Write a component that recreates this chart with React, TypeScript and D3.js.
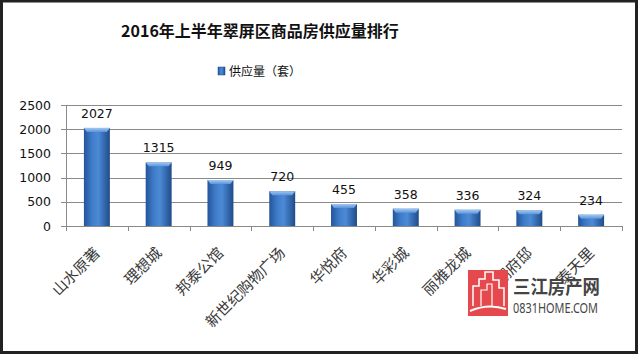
import * as d3 from "d3";

// chart data
const categories = ["山水原著", "理想城", "邦泰公馆", "新世纪购物广场", "华悦府", "华彩城", "丽雅龙城", "湖府邸", "泰天里"];
const supply = [2027, 1315, 949, 720, 455, 358, 336, 324, 234];
const yTicks = [0, 500, 1000, 1500, 2000, 2500];

const title = "2016年上半年翠屏区商品房供应量排行";
const legendLabel = "供应量（套）";

export default function App() {
  const W = 640;
  const H = 355;

  // plot area
  const left = 66;
  const right = 622;
  const top = 105;
  const bottom = 226;

  const x = d3.scaleBand<string>().domain(categories).range([left, right]).paddingInner(0.58).paddingOuter(0.29);
  const xb = d3.scaleBand<string>().domain(categories).range([left, right]);
  const y = d3.scaleLinear().domain([0, 2500]).range([bottom, top]);

  const cjk = "'Noto Sans CJK SC', sans-serif";
  const num = "'DejaVu Sans', Verdana, sans-serif";

  return (
    <div style={{ position: "fixed", left: 0, top: 0 }}>
      <svg width={W} height={H} style={{ display: "block", background: "#fff" }}>
        <defs>
          <linearGradient id="barGrad" x1="0" x2="1" y1="0" y2="0">
            <stop offset="0" stopColor="#23559a" />
            <stop offset="0.3" stopColor="#3f7bc8" />
            <stop offset="0.55" stopColor="#4c8ad6" />
            <stop offset="1" stopColor="#1f4c8a" />
          </linearGradient>
          <linearGradient id="capGrad" x1="0" x2="0" y1="0" y2="1">
            <stop offset="0" stopColor="#a3c8f2" />
            <stop offset="1" stopColor="#5b95da" />
          </linearGradient>
        </defs>

        {/* frame */}
        <rect x={1.5} y={1} width={635} height={351.5} fill="none" stroke="#222" strokeWidth={3} />

        {/* title */}
        <text x={260} y={37} textAnchor="middle" fontFamily={cjk} fontWeight="bold" fontSize={16} fill="#111">
          {title}
        </text>

        {/* legend */}
        <rect x={218} y={67} width={7} height={8} fill="url(#barGrad)" stroke="#1f4b86" strokeWidth={0.5} />
        <text x={229} y={76} fontFamily={cjk} fontSize={12} fill="#111">{legendLabel}</text>

        {/* gridlines + y axis */}
        {yTicks.map((t) => (
          <g key={t}>
            <line x1={left - 5} x2={right} y1={Math.round(y(t)) + 0.5} y2={Math.round(y(t)) + 0.5} stroke="#8a8a8a" strokeWidth={1} />
            <text x={51} y={y(t) + 4.5} textAnchor="end" fontFamily={num} fontSize={12.5} fill="#111">{t}</text>
          </g>
        ))}
        <line x1={left + 0.5} x2={left + 0.5} y1={top} y2={bottom} stroke="#8a8a8a" />

        {/* x axis ticks */}
        {categories.map((c) => (
          <line key={c} x1={Math.round(xb(c)! + xb.bandwidth()) + 0.5} x2={Math.round(xb(c)! + xb.bandwidth()) + 0.5} y1={bottom} y2={bottom + 5} stroke="#8a8a8a" />
        ))}
        <line x1={left + 0.5} x2={left + 0.5} y1={bottom} y2={bottom + 5} stroke="#8a8a8a" />

        {/* bars */}
        {categories.map((c, i) => {
          const bx = x(c)!;
          const bw = x.bandwidth();
          const by = y(supply[i]);
          const cap = 4;
          return (
            <g key={c}>
              <rect x={bx} y={by} width={bw} height={bottom - by} fill="url(#barGrad)" />
              <polygon points={`${bx},${by} ${bx + bw},${by} ${bx + bw - 3},${by + cap} ${bx + 3},${by + cap}`} fill="url(#capGrad)" />
              <text x={bx + bw / 2} y={by - 10} textAnchor="middle" fontFamily={num} fontSize={12.5} fill="#111">
                {supply[i]}
              </text>
            </g>
          );
        })}

        {/* category labels */}
        {categories.map((c) => {
          const cx = xb(c)! + xb.bandwidth() / 2 + 4;
          const cy = 254;
          return (
            <text key={c} transform={`translate(${cx},${cy}) rotate(-45)`} textAnchor="end" fontFamily={cjk} fontSize={15} fill="#3a3a3a">
              {c}
            </text>
          );
        })}

        {/* watermark */}
        <g>
          <rect x={468} y={270} width={40} height={46} fill="#e5484d" />
          <path d="M473 306 L473 286 L479 286 L479 279 L485 279 L485 272 L493 272 L493 280 L499 280 L499 288 L504 288 L504 306" fill="none" stroke="#fff" strokeWidth={1.5} />
          <path d="M481 306 L481 290 L487 290 L487 284 L492 284 L492 306" fill="none" stroke="#fff" strokeWidth={1.2} />
          <path d="M470 311 Q488 303 506 309" fill="none" stroke="#fff" strokeWidth={2} />
          <text x={513} y={294} fontFamily={cjk} fontWeight="bold" fontSize={19} fill="#444" textLength={87} lengthAdjust="spacingAndGlyphs">
            三江房产网
          </text>
          <text x={513} y={313} fontFamily="'Noto Sans', sans-serif" fontSize={14} fill="#444" textLength={85} lengthAdjust="spacingAndGlyphs">
            0831HOME.COM
          </text>
        </g>
      </svg>
    </div>
  );
}
